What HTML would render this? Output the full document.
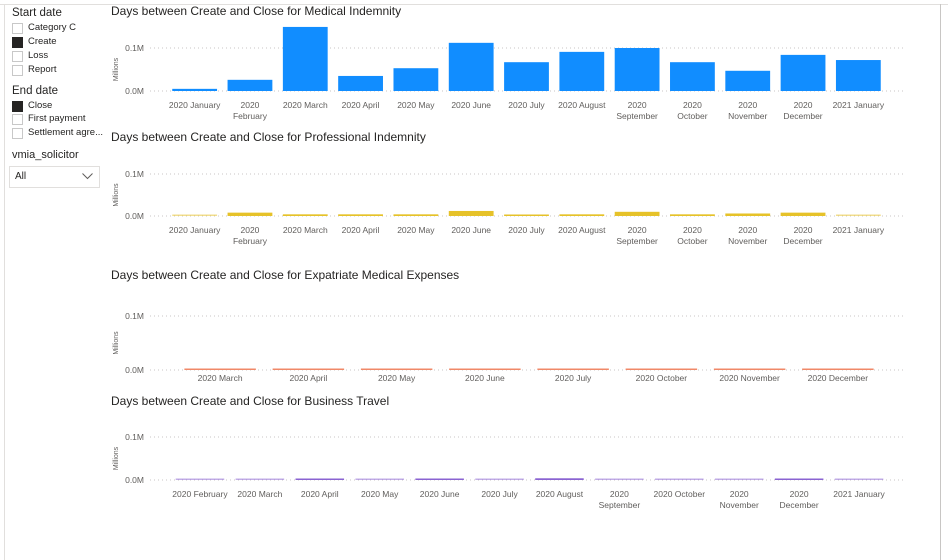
<!DOCTYPE html>
<html><head><meta charset="utf-8">
<style>
body{margin:0;width:948px;height:560px;background:#fff;overflow:hidden;font-family:"Liberation Sans",sans-serif;}
#frame{position:absolute;left:0;top:0;width:948px;height:560px;}
.sl{position:absolute;font-size:11px;color:#252423;}
.cb{position:absolute;width:9px;height:9px;border:1px solid #c8c8c8;background:#fff;}
.cb.on{background:#252423;border-color:#252423;}
</style></head><body>
<div id="frame">
<div style="position:absolute;left:0;top:4px;width:948px;height:1px;background:#e1dfdd"></div>
<div style="position:absolute;left:940px;top:4px;width:1px;height:556px;background:#c8c6c4"></div>
<div style="position:absolute;left:4px;top:4px;width:1px;height:556px;background:#e1dfdd"></div>

<div class="sl" style="left:12px;top:7px;font-size:11.5px">Start date</div>
<div class="cb" style="left:12px;top:23px"></div><div class="sl" style="left:28px;top:22px;font-size:9.5px">Category C</div>
<div class="cb on" style="left:12px;top:37px"></div><div class="sl" style="left:28px;top:36px;font-size:9.5px">Create</div>
<div class="cb" style="left:12px;top:51px"></div><div class="sl" style="left:28px;top:50px;font-size:9.5px">Loss</div>
<div class="cb" style="left:12px;top:65px"></div><div class="sl" style="left:28px;top:64px;font-size:9.5px">Report</div>
<div class="sl" style="left:12px;top:85px;font-size:11.5px">End date</div>
<div class="cb on" style="left:12px;top:101px"></div><div class="sl" style="left:28px;top:100px;font-size:9.5px">Close</div>
<div class="cb" style="left:12px;top:114px"></div><div class="sl" style="left:28px;top:113px;font-size:9.5px">First payment</div>
<div class="cb" style="left:12px;top:128px"></div><div class="sl" style="left:28px;top:127px;font-size:9.5px">Settlement agre...</div>
<div class="sl" style="left:12px;top:149px;font-size:11px">vmia_solicitor</div>
<div style="position:absolute;left:9px;top:166px;width:89px;height:20px;border:1px solid #e1dfdd;background:#fff">
<span style="position:absolute;left:5px;top:4px;font-size:10px;color:#252423">All</span>
<svg style="position:absolute;right:6px;top:6px" width="11" height="7"><path d="M0.5 0.5L5.5 5.5L10.5 0.5" fill="none" stroke="#605e5c" stroke-width="1"/></svg>
</div>

<svg id="charts" width="948" height="560" style="position:absolute;left:0;top:0"></svg>
</div>
<script>
// Chart 1: Medical Indemnity
const cats1 = [["2020 January"],["2020","February"],["2020 March"],["2020 April"],["2020 May"],["2020 June"],["2020 July"],["2020 August"],["2020","September"],["2020","October"],["2020","November"],["2020","December"],["2021 January"]];
const vals1 = [0.005,0.026,0.149,0.035,0.053,0.112,0.067,0.091,0.100,0.067,0.047,0.084,0.072];
// Chart 2: Professional Indemnity
const cats2 = cats1;
const vals2 = [0.001,0.008,0.004,0.004,0.004,0.012,0.003,0.004,0.010,0.004,0.006,0.008,0.002];
// Chart 3: Expatriate Medical Expenses
const cats3 = [["2020 March"],["2020 April"],["2020 May"],["2020 June"],["2020 July"],["2020 October"],["2020 November"],["2020 December"]];
const vals3 = [0.001,0.001,0.001,0.001,0.001,0.001,0.001,0.001];
// Chart 4: Business Travel
const cats4 = [["2020 February"],["2020 March"],["2020 April"],["2020 May"],["2020 June"],["2020 July"],["2020 August"],["2020","September"],["2020 October"],["2020","November"],["2020","December"],["2021 January"]];
const vals4 = [0.001,0.001,0.002,0.001,0.002,0.001,0.004,0.001,0.001,0.001,0.002,0.001];
const ticks = ["0.0M","0.1M"];

const svg = document.getElementById('charts');
const NS = 'http://www.w3.org/2000/svg';
function mk(tag, attrs){const e=document.createElementNS(NS,tag);for(const k in attrs)e.setAttribute(k,attrs[k]);svg.appendChild(e);return e;}

function chart(key,title,titleY,y0,y1,x0,x1,cats,vals,color,light,labOff){
  const t=mk('text',{x:111,y:titleY,'font-size':12,fill:'#252423','font-family':'Liberation Sans, sans-serif'});
  t.textContent=title;
  
  
  const yS=v=>y0-(v/0.1)*(y0-y1);
  ticks.forEach((lab,i)=>{
    const y=yS(i*0.1);
    const g=mk('line',{x1:150,x2:905,y1:y,y2:y,stroke:'#c8c6c4','stroke-dasharray':'1,3'});
    
    
    const tl=mk('text',{x:144,y:y+3,'font-size':8.5,fill:'#605e5c','text-anchor':'end','font-family':'Liberation Sans, sans-serif'});
    tl.textContent=lab;
    
    
  });
  const yt=mk('text',{x:0,y:0,'font-size':7,fill:'#605e5c','text-anchor':'middle','font-family':'Liberation Sans, sans-serif',transform:`translate(118,${(y0+y1)/2}) rotate(-90)`});
  yt.textContent='Millions';
  
  
  const step=(x1-x0)/cats.length;
  cats.forEach((c,i)=>{
    const cx=x0+step*(i+0.5);
    const bw=step*0.81;
    const top=yS(vals[i]);
    const h=Math.max(y0-top,1.5);
    const r=mk('rect',{x:cx-bw/2,y:y0-h,width:bw,height:h,fill:(light&&light.includes(i))?color+'88':color});
    
    
    c.forEach((line,j)=>{
      const l=mk('text',{x:cx,y:y0+labOff+j*11,'font-size':8.5,fill:'#605e5c','text-anchor':'middle','font-family':'Liberation Sans, sans-serif'});
      l.textContent=line;
      
      
    });
  });
}
chart('medical','Days between Create and Close for Medical Indemnity',15,91,48,167,886,cats1,vals1,'#118DFF',null,17);
chart('professional','Days between Create and Close for Professional Indemnity',141,216,174,167,886,cats2,vals2,'#E6C229',[0,12],17);
chart('expatriate','Days between Create and Close for Expatriate Medical Expenses',279,370,316,176,882,cats3,vals3,'#F08868',null,11);
chart('travel','Days between Create and Close for Business Travel',405,480,437,170,889,cats4,vals4,'#8A63D2',[0,1,3,5,7,8,9,11],17);
</script>
</body></html>
